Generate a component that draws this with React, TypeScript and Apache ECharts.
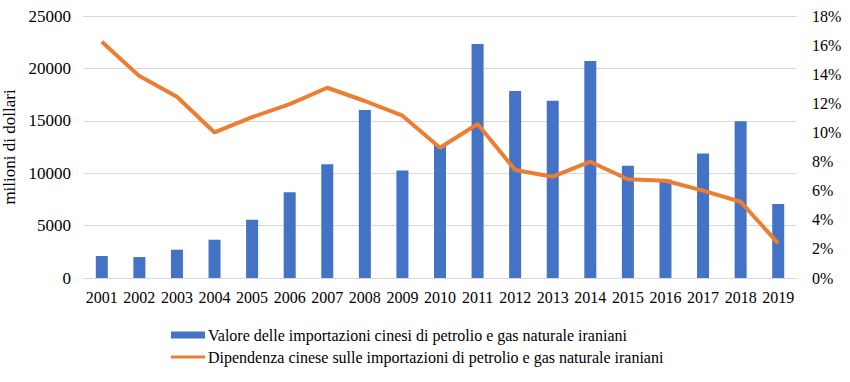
import React, { useEffect, useRef } from "react";
import * as echarts from "echarts";

const years = ["2001","2002","2003","2004","2005","2006","2007","2008","2009","2010","2011","2012","2013","2014","2015","2016","2017","2018","2019"];
const importValues = [2100, 2000, 2700, 3650, 5550, 8180, 10850, 16030, 10250, 12700, 22330, 17850, 16920, 20700, 10720, 9400, 11870, 14960, 7050];
const dependence = [16.23, 13.87, 12.45, 10.0, 11.05, 11.95, 13.07, 12.16, 11.15, 8.95, 10.58, 7.42, 6.96, 7.99, 6.78, 6.68, 6.0, 5.24, 2.38];
const barName = "Valore delle importazioni cinesi di petrolio e gas naturale iraniani";
const lineName = "Dipendenza cinese sulle importazioni di petrolio e gas naturale iraniani";
const leftAxisName = "milioni di dollari";

const FONT = "Liberation Serif";
const txt = { fontFamily: FONT, color: "#000" };

export default function App() {
  const ref = useRef<HTMLDivElement>(null);
  useEffect(() => {
    const chart = echarts.init(ref.current!, null, { renderer: "svg" });
    chart.setOption({
      animation: false,
      textStyle: { fontFamily: FONT, color: "#000" },
      grid: { left: 83, right: 53, top: 16, bottom: 104, containLabel: false, outerBoundsMode: "none" },
      legend: [
        {
          data: [{ name: barName, icon: "rect" }],
          left: 166,
          top: 322,
          itemWidth: 34,
          itemHeight: 7,
          itemGap: 4,
          textStyle: { ...txt, fontSize: 16, padding: [0, 0, 0, -2] },
        },
        {
          data: [{ name: lineName, icon: "rect" }],
          left: 166,
          top: 344,
          itemWidth: 34,
          itemHeight: 3,
          textStyle: { ...txt, fontSize: 16, padding: [0, 0, 0, -2] },
        },
      ],
      xAxis: {
        type: "category",
        data: years,
        axisTick: { show: false },
        axisLine: { lineStyle: { color: "#d9d9d9" } },
        axisLabel: { ...txt, fontSize: 16, margin: 11, interval: 0 },
      },
      yAxis: [
        {
          type: "value",
          min: 0,
          max: 25000,
          interval: 5000,
          name: leftAxisName,
          nameLocation: "middle",
          nameGap: 57,
          nameTextStyle: { ...txt, fontSize: 17 },
          axisLabel: { ...txt, fontSize: 17, margin: 12, formatter: (v: number) => String(v) },
          splitLine: { lineStyle: { color: "#d9d9d9" } },
          axisLine: { show: false },
          axisTick: { show: false },
        },
        {
          type: "value",
          min: 0,
          max: 18,
          interval: 2,
          position: "right",
          axisLabel: { ...txt, fontSize: 16, margin: 15, formatter: (v: number) => v + "%" },
          splitLine: { show: false },
          axisLine: { show: false },
          axisTick: { show: false },
        },
      ],
      series: [
        {
          name: barName,
          type: "bar",
          data: importValues,
          barWidth: 12,
          itemStyle: { color: "#4472C4" },
        },
        {
          name: lineName,
          type: "line",
          yAxisIndex: 1,
          data: dependence,
          symbol: "none",
          lineStyle: { color: "#ED7D31", width: 4 },
          itemStyle: { color: "#ED7D31" },
        },
      ],
    });
    return () => chart.dispose();
  }, []);
  return <div ref={ref} style={{ width: 850, height: 382, position: "absolute", left: 0, top: 0 }} />;
}
